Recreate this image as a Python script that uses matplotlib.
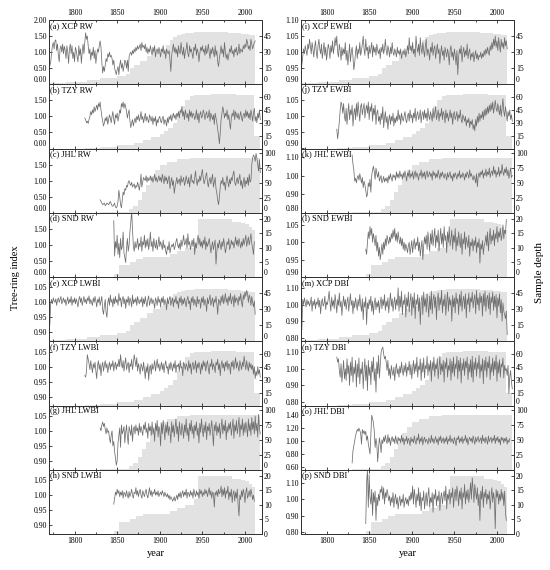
import numpy as np
import matplotlib.pyplot as plt
from matplotlib.ticker import MultipleLocator

plt.rcParams['font.family'] = ['Liberation Serif', 'DejaVu Serif']

# ---- sample depth (step breakpoints) ----
xcp_depth_yr = [1771, 1790, 1800, 1815, 1830, 1850, 1860, 1865, 1870, 1877, 1885, 1892, 1900, 1907,
                1912, 1916, 1920, 1925, 1930, 1940, 1960, 1980, 1995, 2005, 2012]
xcp_depth_n = [1, 2, 2, 4, 6, 8, 10, 15, 18, 22, 26, 30, 33, 37, 41, 44, 46, 47, 48, 49, 49, 48, 47, 46, 46]
tzy_depth_yr = [1812, 1830, 1850, 1870, 1880, 1890, 1900, 1905, 1910, 1915, 1920, 1925, 1930, 1935,
                1940, 1960, 1990, 2010, 2011, 2018]
tzy_depth_n = [1, 2, 4, 7, 10, 13, 17, 20, 24, 30, 40, 50, 57, 61, 63, 64, 63, 62, 15, 15]
jhl_depth_yr = [1830, 1850, 1858, 1864, 1869, 1874, 1879, 1884, 1889, 1894, 1900, 1908, 1920, 1935,
                1960, 2000, 2018]
jhl_depth_n = [1, 1, 2, 6, 12, 22, 34, 47, 62, 72, 79, 85, 89, 91, 92, 92, 92]
snd_depth_yr = [1846, 1852, 1865, 1872, 1880, 1900, 1912, 1920, 1930, 1940, 1945, 1975, 1985, 1995,
                2000, 2005, 2008, 2012]
snd_depth_n = [1, 4, 5, 6, 7, 7, 8, 9, 10, 12, 20, 20, 19, 18.5, 18, 17, 16, 16]

# ---- ring width indices (x100), first year in *_start ----
xcp_start, tzy_start, jhl_start, snd_start = 1771, 1812, 1830, 1846

xcp_rw = [58, 70, 95, 120, 130, 110, 135, 138, 105, 125,
          90, 70, 110, 120, 100, 125, 95, 118, 105, 80,
          120, 100, 65, 110, 125, 95, 120, 80, 100, 70,
          115, 105, 85, 70, 120, 90, 110, 65, 100, 125,
          95, 130, 160, 140, 150, 120, 95, 110, 75, 100,
          90, 115, 80, 105, 65, 90, 110, 100, 120, 135,
          115, 70, 35, 55, 40, 60, 80, 70, 95, 85,
          100, 85, 90, 80, 60, 75, 50, 40, 30, 45,
          55, 30, 60, 75, 50, 65, 40, 55, 75, 70,
          50, 75, 40, 85, 95, 100, 90, 105, 95, 110,
          100, 115, 105, 120, 110, 115, 125, 105, 130, 115,
          120, 110, 125, 100, 115, 95, 110, 100, 120, 105,
          90, 115, 100, 120, 85, 105, 110, 95, 115, 100,
          85, 110, 100, 120, 95, 105, 80, 110, 100, 95,
          105, 75, 40, 90, 110, 125, 100, 115, 95, 110,
          85, 120, 100, 95, 130, 105, 90, 115, 80, 100,
          110, 130, 95, 85, 120, 100, 110, 95, 80, 115,
          105, 125, 90, 110, 100, 70, 95, 115, 105, 120,
          100, 110, 90, 120, 95, 105, 125, 100, 80, 110,
          95, 115, 100, 85, 120, 90, 105, 70, 55, 80,
          100, 120, 95, 110, 85, 130, 100, 80, 95, 75,
          90, 110, 100, 120, 95, 105, 85, 110, 100, 115,
          90, 100, 125, 95, 110, 105, 100, 120, 110, 125,
          115, 140, 130, 110, 120, 105, 140, 125, 110, 120,
          130, 135]
tzy_rw = [95, 90, 80, 85, 78, 90, 100, 115, 105, 120,
          110, 130, 115, 125, 135, 120, 140, 130, 145, 120,
          100, 85, 70, 80, 95, 85, 100, 75, 90, 105,
          95, 80, 100, 115, 90, 75, 105, 95, 110, 85,
          100, 120, 110, 140, 130, 145, 125, 140, 130, 115,
          95, 110, 120, 85, 65, 80, 90, 70, 85, 95,
          80, 100, 90, 105, 85, 95, 115, 90, 100, 80,
          95, 110, 85, 100, 90, 80, 105, 95, 85, 100,
          75, 95, 85, 100, 70, 90, 80, 95, 100, 85,
          80, 95, 100, 75, 90, 85, 70, 95, 80, 100,
          90, 105, 85, 100, 110, 95, 105, 90, 110, 100,
          115, 95, 120, 110, 130, 100, 115, 90, 120, 105,
          95, 110, 85, 120, 100, 115, 95, 110, 105, 90,
          100, 120, 90, 110, 80, 105, 115, 95, 100, 120,
          110, 90, 105, 115, 95, 100, 120, 85, 110, 100,
          90, 105, 75, 110, 95, 80, 60, 40, 15, 50,
          90, 110, 130, 115, 95, 110, 100, 120, 90, 105,
          80, 60, 95, 110, 100, 120, 90, 115, 105, 95,
          110, 90, 100, 115, 95, 85, 105, 110, 95, 120,
          100, 115, 95, 110, 90, 120, 105, 85, 110, 125,
          85, 100, 80, 110, 95, 120, 90]
jhl_rw = [40, 35, 30, 25, 28, 30, 22, 25, 30, 28,
          25, 30, 35, 28, 22, 20, 25, 30, 18, 15,
          20, 35, 70, 50, 25, 15, 40, 65, 55, 75,
          70, 85, 80, 95, 100, 90, 85, 95, 80, 85,
          90, 75, 85, 80, 95, 85, 70, 90, 120, 80,
          95, 110, 105, 100, 115, 95, 110, 100, 105, 115,
          100, 110, 95, 105, 120, 100, 110, 95, 105, 115,
          100, 110, 95, 120, 105, 90, 115, 100, 110, 90,
          105, 115, 75, 95, 110, 85, 100, 60, 80, 95,
          110, 90, 100, 105, 85, 115, 95, 100, 110, 85,
          95, 115, 100, 90, 110, 80, 105, 120, 95, 100,
          90, 110, 130, 100, 85, 105, 95, 115, 100, 120,
          135, 110, 90, 100, 115, 125, 95, 80, 100, 110,
          90, 105, 120, 80, 95, 110, 75, 60, 40, 25,
          50, 80, 100, 90, 110, 85, 95, 70, 100, 115,
          95, 80, 105, 90, 110, 100, 120, 130, 95, 85,
          100, 110, 90, 105, 120, 85, 100, 75, 95, 110,
          80, 100, 90, 110, 85, 120, 95, 100, 150, 170,
          180, 175, 160, 185, 170, 150, 130, 165, 125]
snd_rw = [175, 65, 110, 90, 130, 70, 105, 60, 120, 85,
          95, 140, 75, 60, 45, 90, 120, 80, 100, 140,
          170, 205, 150, 95, 80, 110, 90, 100, 120, 85,
          105, 95, 125, 80, 110, 100, 130, 90, 115, 95,
          120, 85, 105, 140, 95, 110, 80, 120, 100, 90,
          115, 85, 100, 125, 95, 110, 100, 85, 115, 90,
          100, 80, 70, 95, 85, 110, 75, 90, 100, 95,
          105, 85, 95, 110, 120, 100, 90, 105, 85, 115,
          95, 110, 130, 100, 105, 120, 90, 135, 100, 110,
          85, 100, 115, 95, 120, 70, 105, 90, 115, 130,
          100, 120, 95, 110, 90, 115, 100, 125, 85, 110,
          95, 105, 120, 100, 75, 95, 110, 85, 100, 115,
          40, 80, 105, 90, 115, 100, 85, 110, 95, 120,
          100, 75, 90, 110, 100, 120, 85, 95, 115, 100,
          110, 90, 105, 125, 100, 115, 95, 120, 105, 90,
          110, 95, 120, 100, 115, 130, 95, 110, 125, 100,
          115, 135, 105, 90, 70, 110]

# ---- latewood blue intensity (x1000) ----
xcp_lwbi = [925, 1000, 1010, 995, 1015, 1005, 1000, 1012, 990, 1008,
            1015, 1000, 1010, 1020, 995, 1005, 1015, 1000, 1010, 990,
            1005, 1018, 995, 1010, 1000, 1020, 990, 1010, 1000, 1015,
            995, 1012, 1000, 985, 1010, 1020, 1000, 1015, 990, 1005,
            1020, 1000, 1010, 995, 1015, 1005, 1022, 995, 1010, 1000,
            990, 1015, 1000, 1020, 1005, 985, 1010, 1000, 1018, 990,
            1005, 1020, 975, 960, 990, 1010, 965, 950, 1000, 1015,
            990, 1025, 1000, 1010, 985, 1015, 995, 1020, 1000, 1010,
            990, 1030, 1005, 1015, 985, 1010, 1020, 995, 1012, 980,
            1010, 1000, 1020, 990, 1015, 1005, 985, 1025, 995, 1010,
            1000, 1015, 990, 1020, 1005, 995, 1010, 1000, 1018, 985,
            1012, 995, 1020, 1000, 985, 1010, 1022, 990, 1005, 1015,
            995, 1010, 1000, 980, 1015, 1005, 990, 1020, 1000, 1010,
            985, 1015, 1000, 1020, 990, 1010, 1000, 975, 1015, 995,
            1010, 1020, 990, 1005, 1015, 985, 1010, 1000, 1020, 995,
            1005, 980, 1015, 1000, 1020, 990, 1010, 995, 1015, 1000,
            985, 1010, 1020, 995, 1005, 975, 1015, 1000, 1020, 990,
            1010, 1000, 985, 1020, 995, 1010, 1005, 980, 1015, 1000,
            1020, 990, 1010, 1000, 970, 1015, 995, 1010, 1025, 990,
            1005, 1015, 985, 1010, 1000, 1020, 995, 960, 1010, 1005,
            990, 1020, 1000, 1025, 995, 1010, 1030, 1000, 1015, 990,
            1020, 1005, 1030, 995, 1010, 1020, 985, 1025, 1000, 1015,
            1010, 990, 1020, 1005, 1030, 1000, 985, 1025, 1010, 1035,
            1020, 1040, 1030, 1000, 1025, 1015, 990, 1020, 1000, 985,
            1005, 960]
tzy_lwbi = [970, 965, 985, 1040, 1025, 1010, 990, 1020, 1000, 980,
            1010, 995, 1015, 985, 960, 1005, 1020, 990, 1010, 970,
            1000, 1015, 985, 1005, 1020, 995, 1010, 980, 1000, 1015,
            990, 1010, 1000, 1020, 985, 1005, 1015, 990, 1010, 1000,
            1025, 1000, 1040, 1010, 995, 1020, 985, 1010, 1030, 990,
            1005, 1015, 980, 1010, 1000, 1025, 990, 1010, 1040, 1020,
            1000, 1030, 985, 1010, 995, 975, 1010, 1000, 985, 1015,
            990, 960, 1000, 980, 1010, 955, 995, 1005, 975, 1010,
            990, 1000, 1020, 985, 1005, 1025, 995, 1010, 985, 1000,
            1015, 990, 1010, 980, 1005, 1020, 995, 1000, 975, 1010,
            990, 1015, 1000, 985, 1010, 995, 1020, 980, 1005, 1000,
            1010, 985, 1020, 995, 1000, 970, 1015, 1005, 990, 1010,
            1000, 985, 1020, 995, 1010, 975, 1005, 1015, 990, 1000,
            1020, 980, 1010, 995, 1015, 1000, 975, 1010, 990, 1020,
            1000, 1015, 985, 1005, 1020, 995, 975, 1010, 1000, 1025,
            990, 1010, 1000, 980, 1015, 1005, 1025, 990, 1010, 970,
            1005, 1020, 995, 1010, 985, 1015, 1000, 1020, 990, 1010,
            1005, 975, 1015, 1000, 1020, 990, 1010, 1030, 995, 1015,
            1000, 985, 1020, 1005, 990, 1015, 1000, 1035, 1010, 990,
            1020, 1000, 985, 1015, 995, 1010, 990, 1005, 975, 1000,
            960, 985, 970, 1000, 975, 990, 965]
jhl_lwbi = [1010, 1000, 1020, 1030, 1015, 1025, 1005, 990, 1010, 995,
            1000, 975, 960, 985, 1000, 950, 965, 930, 910, 885,
            900, 960, 985, 1010, 945, 1020, 990, 1000, 1015, 960,
            995, 1020, 980, 955, 1015, 1000, 985, 1020, 965, 1005,
            1015, 990, 1020, 1000, 1010, 985, 1025, 995, 1015, 1000,
            985, 1020, 1005, 1030, 995, 1010, 975, 1025, 1000, 1015,
            985, 1030, 990, 1010, 965, 1025, 1000, 1035, 980, 1015,
            1000, 950, 1025, 990, 1035, 1005, 970, 1020, 995, 1030,
            985, 1015, 1000, 960, 1030, 995, 1020, 980, 1010, 1040,
            990, 1015, 965, 1030, 1000, 985, 1025, 1005, 975, 1020,
            995, 1040, 985, 1010, 965, 1025, 1000, 1035, 990, 1015,
            975, 1020, 1000, 1030, 985, 1010, 960, 1025, 995, 1040,
            1005, 980, 1020, 995, 1030, 970, 1015, 1000, 1025, 985,
            1010, 1035, 990, 950, 1020, 1000, 1030, 985, 1015, 995,
            1025, 975, 1010, 1040, 990, 1020, 1000, 1035, 970, 1015,
            995, 1025, 1005, 1030, 985, 1010, 1040, 975, 1020, 1000,
            1035, 990, 1015, 1045, 980, 1020, 1005, 1040, 985, 1025,
            995, 1030, 1010, 980, 1040, 1000, 1025, 985, 1045, 1005,
            1030, 990, 1050, 1000, 1025, 980, 1055, 1010, 990]
snd_lwbi = [970, 990, 1010, 1000, 1020, 1005, 1015, 995, 1010, 1000,
            1015, 990, 1010, 1005, 995, 1015, 1000, 990, 1012, 995,
            1005, 1020, 1000, 990, 1010, 1005, 1025, 1000, 1015, 995,
            1010, 1020, 1000, 990, 1015, 1005, 995, 1010, 1020, 1000,
            990, 1010, 1025, 1000, 1015, 995, 1010, 1005, 1020, 1000,
            1010, 1000, 1015, 995, 1005, 1010, 1000, 1015, 1005, 995,
            1010, 1000, 995, 1005, 990, 1000, 985, 995, 990, 980,
            985, 995, 980, 990, 1000, 985, 1005, 995, 1010, 990,
            1005, 1015, 995, 1010, 1000, 1020, 990, 1010, 1005, 995,
            1015, 1000, 1010, 990, 1020, 1005, 995, 1015, 1000, 1010,
            990, 1020, 1005, 1015, 995, 1010, 1000, 1020, 1005, 1015,
            995, 1010, 1025, 1000, 1015, 990, 1010, 1005, 960, 1010,
            1000, 1015, 995, 1020, 1005, 1010, 1030, 995, 1020, 1000,
            1025, 990, 1015, 1005, 1030, 985, 1010, 995, 1020, 975,
            1005, 1015, 980, 1010, 990, 1020, 965, 930, 1000, 985,
            1015, 995, 1020, 1005, 975, 1010, 1025, 990, 1000, 1015,
            995, 1020, 1005, 985, 1000, 980]

# ---- earlywood blue intensity (x1000) ----
xcp_ewbi = [960, 985, 1010, 995, 1020, 1005, 990, 1025, 1010, 1040,
            1020, 995, 1030, 1010, 985, 1015, 1035, 1000, 980, 1020,
            1040, 1010, 995, 1025, 980, 1005, 1030, 990, 1015, 975,
            1000, 1025, 1010, 980, 1020, 1000, 1035, 995, 1015, 1045,
            1020, 1050, 1000, 985, 1025, 1005, 975, 1015, 990, 1010,
            995, 1030, 975, 1005, 960, 990, 1025, 970, 1000, 1015,
            985, 945, 965, 1000, 1020, 980, 1010, 995, 1030, 990,
            1005, 1025, 1050, 1010, 990, 1040, 1005, 1015, 980, 1020,
            995, 1010, 1030, 985, 1020, 1000, 1015, 990, 1025, 1005,
            995, 1010, 980, 1015, 1000, 1025, 995, 1010, 1040, 1005,
            990, 1020, 1005, 985, 1015, 995, 1030, 1000, 990, 1010,
            1000, 985, 1015, 995, 1005, 990, 1010, 980, 995, 1005,
            990, 1010, 985, 1000, 1020, 995, 1045, 1005, 1020, 1000,
            1030, 995, 1010, 985, 1050, 1015, 1000, 1025, 990, 1045,
            1010, 995, 1030, 1005, 985, 1020, 1040, 990, 1010, 1000,
            975, 1015, 1000, 1030, 990, 1010, 1020, 980, 1005, 1025,
            995, 1010, 965, 1000, 1020, 990, 1005, 975, 1015, 1000,
            985, 1010, 995, 960, 1005, 1020, 985, 1000, 975, 1010,
            990, 960, 1005, 930, 985, 1010, 995, 1020, 970, 1000,
            1015, 985, 1005, 990, 1025, 980, 1000, 1010, 975, 995,
            985, 1000, 970, 990, 1005, 980, 995, 975, 990, 985,
            1000, 980, 995, 985, 1005, 990, 1010, 995, 1015, 1000,
            990, 1020, 1005, 1030, 1010, 1040, 1020, 1050, 1015, 1035,
            1005, 1045, 1020, 1000, 1040, 1015, 1030, 1010, 1045, 1020,
            1035, 1010]
tzy_ewbi = [960, 930, 955, 985, 1020, 1045, 1035, 1010, 1040, 1000,
            985, 1025, 975, 1010, 1040, 990, 1020, 1005, 1035, 970,
            1010, 1025, 990, 1040, 1000, 1045, 1015, 985, 1030, 1040,
            1005, 1025, 1040, 995, 1020, 1035, 1010, 1045, 990, 1030,
            1015, 1040, 985, 1025, 1005, 1035, 975, 1010, 1020, 985,
            1000, 975, 1010, 990, 1030, 965, 995, 1015, 980, 1000,
            960, 990, 1005, 975, 1000, 985, 1010, 970, 995, 980,
            1000, 985, 1020, 990, 1005, 975, 1010, 995, 985, 1000,
            1015, 990, 980, 1000, 1010, 985, 1020, 995, 1005, 980,
            1010, 995, 1025, 985, 1005, 1015, 990, 1000, 1020, 980,
            1005, 1015, 990, 1020, 995, 1010, 985, 1025, 1000, 990,
            1015, 1000, 985, 1025, 995, 1010, 1030, 990, 1005, 1020,
            985, 1010, 1000, 1025, 990, 1015, 1005, 980, 1020, 995,
            1010, 985, 1000, 1020, 995, 1010, 975, 1005, 1015, 990,
            1000, 1015, 985, 1005, 995, 1020, 990, 980, 1005, 995,
            985, 1000, 970, 990, 980, 995, 965, 985, 975, 990,
            960, 975, 955, 990, 970, 1000, 980, 1010, 985, 1005,
            995, 1015, 990, 1020, 1000, 1025, 1005, 1030, 1010, 1035,
            1015, 1040, 1020, 1045, 1010, 1030, 1050, 1025, 1015, 1040,
            1020, 1005, 1035, 1000, 1025, 1055, 1015, 1000, 1030, 1010,
            985, 1015, 1000, 1020, 990, 1005, 985]
jhl_ewbi = [1110, 1060, 1030, 970, 985, 960, 990, 1000, 975, 1010,
            985, 960, 990, 935, 970, 950, 920, 885, 900, 960,
            940, 980, 910, 1000, 1030, 1050, 1020, 980, 1040, 1010,
            990, 1020, 970, 985, 1000, 960, 975, 995, 965, 985,
            970, 990, 960, 1000, 980, 1010, 985, 970, 1005, 990,
            1000, 975, 1020, 990, 1010, 985, 1025, 995, 1005, 980,
            1015, 990, 1025, 1000, 970, 1015, 995, 1030, 985, 1010,
            995, 1020, 980, 1005, 1025, 990, 1015, 1000, 975, 1010,
            1000, 1030, 985, 1015, 995, 1020, 980, 1010, 1025, 990,
            1005, 1020, 995, 1010, 975, 1025, 1000, 1015, 985, 1010,
            990, 1030, 1005, 980, 1015, 995, 1020, 1000, 985, 1010,
            1000, 975, 1015, 990, 1005, 1020, 985, 1000, 970, 1010,
            990, 1015, 1000, 980, 1010, 995, 1025, 985, 1005, 990,
            1015, 1000, 975, 1010, 990, 1020, 1005, 985, 1030, 995,
            1010, 990, 975, 1000, 985, 960, 1010, 940, 995, 1015,
            990, 1020, 1005, 1030, 985, 1015, 1000, 1035, 995, 1020,
            1005, 1040, 990, 1015, 1025, 1000, 1050, 1010, 1030, 990,
            1020, 1005, 1045, 995, 1025, 1010, 1060, 1020, 1000, 1035,
            1015, 1045, 1000, 1030, 985, 1010, 1040, 990, 1000]
snd_ewbi = [980, 965, 1000, 1030, 1010, 1045, 1020, 1040, 1000, 1025,
            1010, 990, 1020, 975, 1000, 960, 985, 950, 970, 995,
            965, 1000, 980, 1010, 990, 1020, 1005, 995, 1015, 1000,
            1025, 1010, 1035, 1015, 1040, 1005, 1025, 1000, 1030, 1010,
            995, 1015, 990, 1010, 980, 1000, 975, 995, 985, 970,
            990, 1000, 965, 985, 1005, 970, 995, 1010, 980, 1000,
            990, 1015, 975, 1000, 960, 985, 1005, 950, 990, 1015,
            995, 1020, 980, 1030, 1000, 975, 1025, 995, 1035, 990,
            1015, 1040, 985, 1020, 1000, 1035, 975, 1010, 1040, 995,
            1025, 985, 1045, 1005, 1020, 970, 1030, 1000, 1045, 990,
            1010, 1035, 980, 1020, 1000, 1040, 975, 1015, 990, 1030,
            1005, 985, 1025, 965, 1010, 995, 1030, 980, 1015, 1000,
            985, 1020, 960, 1000, 990, 1010, 975, 1005, 990, 1015,
            970, 1000, 985, 1010, 940, 995, 980, 1005, 965, 990,
            1000, 1020, 990, 1030, 975, 1010, 1040, 995, 1020, 1005,
            1035, 990, 1025, 1010, 1045, 1000, 1030, 1015, 1040, 1005,
            1020, 1050, 1010, 1035, 1025, 1065]

# ---- delta blue intensity (x1000) ----
xcp_dbi = [850, 1030, 1000, 1040, 1010, 985, 1030, 1000, 1020, 990,
           1010, 1045, 960, 1020, 995, 1030, 975, 1015, 1000, 1040,
           985, 1025, 945, 1010, 1035, 990, 1005, 1050, 970, 1015,
           1000, 1035, 1080, 1010, 960, 1045, 990, 1025, 975, 1060,
           1010, 950, 1030, 995, 1070, 985, 1020, 935, 1005, 1050,
           990, 1030, 970, 1015, 1045, 960, 1010, 1065, 995, 1025,
           945, 1020, 980, 1040, 1005, 965, 1030, 990, 1060, 1000,
           960, 1035, 910, 1015, 985, 1045, 880, 1010, 975, 1030,
           995, 1050, 960, 1020, 940, 1005, 1040, 970, 1015, 985,
           1025, 950, 1010, 1045, 975, 1030, 995, 1060, 965, 1020,
           985, 1040, 950, 1015, 1070, 990, 1035, 960, 1010, 1045,
           970, 1030, 995, 1100, 960, 1050, 985, 1080, 940, 1025,
           1000, 1060, 925, 1040, 990, 1075, 955, 1020, 1065, 935,
           1045, 980, 1070, 915, 1030, 1000, 1060, 960, 1040, 880,
           1020, 1055, 940, 1075, 990, 1035, 955, 1065, 1000, 925,
           1050, 970, 1080, 945, 1030, 1060, 980, 1045, 910, 1025,
           1070, 965, 1040, 1000, 1085, 950, 1030, 990, 1060, 935,
           1020, 1075, 960, 1045, 995, 1030, 900, 1055, 985, 1040,
           950, 1070, 1005, 1035, 940, 1060, 990, 1080, 960, 1025,
           1050, 975, 1065, 920, 1035, 1000, 1070, 955, 1040, 1015,
           1075, 980, 1030, 1060, 945, 1085, 1000, 1040, 965, 1070,
           1010, 1050, 930, 1065, 990, 1080, 960, 1035, 1055, 975,
           1070, 940, 1045, 1010, 1075, 965, 1050, 985, 1060, 920,
           1040, 990, 1065, 950, 1030, 900, 1010, 960, 940, 915,
           960, 820]
tzy_dbi = [1070, 1040, 1060, 990, 950, 1030, 920, 980, 1050, 940,
           1000, 930, 1060, 970, 1020, 900, 1040, 960, 1070, 920,
           1010, 970, 1050, 890, 1030, 950, 1065, 910, 1000, 970,
           1040, 880, 990, 1060, 930, 1020, 870, 1050, 960, 1010,
           905, 1045, 980, 1070, 930, 1000, 860, 1040, 970, 1080,
           945, 1020, 1100, 1120, 1130, 1090, 1060, 1075, 1040, 990,
           1050, 960, 1000, 940, 1020, 985, 960, 1010, 930, 995,
           1030, 970, 1000, 950, 1015, 975, 1040, 990, 960, 1020,
           980, 1035, 955, 1010, 990, 1045, 965, 1025, 940, 1000,
           1050, 970, 1030, 985, 1070, 950, 1015, 995, 1060, 930,
           1035, 980, 1065, 945, 1020, 1000, 1075, 960, 1030, 985,
           1050, 925, 1040, 990, 1070, 955, 1025, 1000, 1060, 940,
           1010, 1075, 965, 1030, 985, 1050, 920, 1040, 1000, 1065,
           950, 1020, 990, 1060, 930, 1045, 975, 1070, 955, 1030,
           1000, 1075, 940, 1050, 985, 1065, 915, 1035, 990, 1060,
           960, 1045, 1005, 1070, 935, 1030, 980, 1055, 950, 1075,
           920, 1040, 995, 1065, 955, 1035, 1000, 1080, 945, 1025,
           985, 1060, 910, 1050, 990, 1070, 950, 1040, 1005, 1075,
           935, 1030, 980, 1065, 960, 1045, 995, 1080, 925, 1040,
           975, 1055, 950, 1030, 1010, 1065, 945, 1020, 990, 1000,
           960, 1020, 850, 950, 990, 920, 880]
jhl_dbi = [660, 850, 930, 1010, 1080, 1130, 1180, 1150, 1200, 1160,
           1130, 950, 1180, 1120, 1160, 1100, 1150, 1010, 1080, 960,
           880, 800, 1120, 1400, 1350, 1280, 1150, 900, 1040, 950,
           680, 880, 1050, 960, 820, 1020, 960, 1060, 990, 1090,
           1010, 960, 1100, 980, 1050, 930, 1020, 1070, 990, 1040,
           960, 1080, 1010, 950, 1060, 1000, 1040, 970, 1090, 990,
           1050, 940, 1030, 1000, 1070, 960, 1040, 1010, 930, 1060,
           990, 1030, 970, 1080, 1000, 950, 1050, 1010, 1110, 960,
           1040, 990, 1070, 940, 1020, 1060, 980, 1030, 1000, 950,
           1050, 1010, 970, 1090, 990, 1040, 960, 1020, 1070, 980,
           1030, 940, 1060, 1000, 1080, 970, 1020, 1050, 960, 1040,
           990, 1070, 950, 1030, 1000, 1090, 980, 1040, 1010, 960,
           1060, 1000, 930, 1050, 1020, 1080, 970, 1040, 990, 1070,
           960, 1030, 1010, 1090, 980, 1050, 940, 1020, 1060, 1000,
           1040, 970, 1080, 1010, 950, 1060, 990, 1030, 1070, 980,
           1020, 1050, 960, 1090, 1000, 1040, 970, 1060, 1010, 950,
           1080, 990, 1030, 1060, 970, 1040, 1010, 1090, 960, 1050,
           1000, 1070, 980, 1030, 940, 1060, 1010, 1050, 970, 1040,
           1000, 1060, 950, 1020, 980, 1040]
snd_dbi = [850, 1100, 1180, 950, 1150, 1010, 970, 1060, 900, 1040,
           980, 1050, 870, 1010, 960, 1030, 990, 1060, 1040, 1080,
           1000, 1070, 970, 1040, 1010, 1060, 1030, 990, 1020, 960,
           1010, 980, 1040, 950, 1000, 1030, 970, 1010, 940, 990,
           1020, 960, 1000, 980, 1030, 950, 990, 1010, 970, 1000,
           960, 1020, 990, 1040, 1000, 1080, 970, 1060, 1010, 950,
           1030, 990, 1070, 960, 1040, 930, 1010, 990, 1050, 940,
           1000, 1040, 960, 1020, 1070, 950, 1010, 980, 1040, 920,
           1030, 1000, 1060, 960, 1020, 990, 1050, 930, 1010, 1040,
           970, 1020, 1050, 990, 1080, 940, 1030, 1000, 1060, 970,
           1040, 1010, 1070, 950, 1020, 1060, 990, 1080, 1030, 960,
           1050, 1000, 1070, 940, 1040, 1010, 1090, 970, 1050, 1000,
           1060, 980, 1030, 1100, 1000, 1130, 1060, 980, 1090, 1040,
           1000, 1070, 960, 1030, 870, 1050, 1000, 1080, 950, 1040,
           1010, 1060, 970, 1030, 1000, 1050, 940, 1010, 1070, 980,
           1040, 1000, 820, 1060, 1010, 1050, 970, 1030, 990, 1060,
           1000, 1040, 960, 1050, 920, 870]

# site settings: start year, depth steps, right-axis limit / ticks
sites = {
    'XCP': (xcp_start, xcp_depth_yr, xcp_depth_n, 60, [0, 15, 30, 45]),
    'TZY': (tzy_start, tzy_depth_yr, tzy_depth_n, 75, [0, 15, 30, 45, 60]),
    'JHL': (jhl_start, jhl_depth_yr, jhl_depth_n, 107, [0, 25, 50, 75, 100]),
    'SND': (snd_start, snd_depth_yr, snd_depth_n, 22, [0, 5, 10, 15, 20]),
}

# (label, site, values, scale, ylim, yticks)
left_col = [
    ('(a) XCP RW', 'XCP', xcp_rw, 100, (0, 2.0), [0, 0.5, 1.0, 1.5, 2.0]),
    ('(b) TZY RW', 'TZY', tzy_rw, 100, (0, 2.0), [0, 0.5, 1.0, 1.5]),
    ('(c) JHL RW', 'JHL', jhl_rw, 100, (0, 2.0), [0, 0.5, 1.0, 1.5]),
    ('(d) SND RW', 'SND', snd_rw, 100, (0, 2.0), [0, 0.5, 1.0, 1.5]),
    ('(e) XCP LWBI', 'XCP', xcp_lwbi, 1000, (0.87, 1.085), [0.90, 0.95, 1.00, 1.05]),
    ('(f) TZY LWBI', 'TZY', tzy_lwbi, 1000, (0.87, 1.085), [0.90, 0.95, 1.00, 1.05]),
    ('(g) JHL LWBI', 'JHL', jhl_lwbi, 1000, (0.87, 1.085), [0.90, 0.95, 1.00, 1.05]),
    ('(h) SND LWBI', 'SND', snd_lwbi, 1000, (0.87, 1.085), [0.90, 0.95, 1.00, 1.05]),
]
right_col = [
    ('(i) XCP EWBI', 'XCP', xcp_ewbi, 1000, (0.90, 1.10), [0.90, 0.95, 1.00, 1.05, 1.10]),
    ('(j) TZY EWBI', 'TZY', tzy_ewbi, 1000, (0.90, 1.10), [0.90, 0.95, 1.00, 1.05]),
    ('(k) JHL EWBI', 'JHL', jhl_ewbi, 1000, (0.80, 1.145), [0.80, 0.90, 1.00, 1.10]),
    ('(l) SND EWBI', 'SND', snd_ewbi, 1000, (0.90, 1.085), [0.90, 0.95, 1.00, 1.05]),
    ('(m) XCP DBI', 'XCP', xcp_dbi, 1000, (0.78, 1.165), [0.80, 0.90, 1.00, 1.10]),
    ('(n) TZY DBI', 'TZY', tzy_dbi, 1000, (0.78, 1.165), [0.80, 0.90, 1.00, 1.10]),
    ('(o) JHL DBI', 'JHL', jhl_dbi, 1000, (0.555, 1.55), [0.60, 0.80, 1.00, 1.20, 1.40]),
    ('(p) SND DBI', 'SND', snd_dbi, 1000, (0.787, 1.18), [0.80, 0.90, 1.00, 1.10]),
]

W, H = 550, 570
fig = plt.figure(figsize=(W / 100, H / 100), dpi=100)

top_px, bot_px = 20, 534
ph = (bot_px - top_px) / 8
col_x = [49, 301]
col_w = 213

line_c = '#6e6e6e'
fill_c = '#e2e2e2'
fs = 5.6

for c, panels in enumerate([left_col, right_col]):
    for r, (lab, site, vals, scale, ylim, yt) in enumerate(panels):
        start, dyr, dn, dmax, dticks = sites[site]
        y0 = 1 - (top_px + (r + 1) * ph) / H
        ax = fig.add_axes([col_x[c] / W, y0, col_w / W, ph / H])
        ax2 = ax.twinx()

        ax2.fill_between(dyr, dn, step='post', color=fill_c, lw=0)
        ax2.set_ylim(0, dmax)
        ax2.set_yticks(dticks)

        yrs = np.arange(start, start + len(vals))
        ax.plot(yrs, np.array(vals) / scale, color=line_c, lw=0.55)
        ax.set_ylim(*ylim)
        ax.set_yticks(yt)
        ax.set_yticklabels(['%.2f' % v for v in yt])
        ax.set_xlim(1770, 2020)
        ax.xaxis.set_major_locator(MultipleLocator(50))
        ax.xaxis.set_minor_locator(MultipleLocator(25))

        ax.set_zorder(ax2.get_zorder() + 1)
        ax.patch.set_visible(False)

        ax.tick_params(axis='x', which='both', direction='in', top=True, bottom=True,
                       labelbottom=(r == 7), labeltop=(r == 0), labelsize=fs, pad=2)
        ax.tick_params(axis='x', which='major', length=2.5, width=0.5)
        ax.tick_params(axis='x', which='minor', length=1.5, width=0.5)
        ax.tick_params(axis='y', direction='in', length=2, width=0.5, labelsize=fs, pad=1.5)
        ax2.tick_params(axis='y', direction='in', length=2, width=0.5, labelsize=fs, pad=1.5)

        # bottom tick labels sit just above the panel edge so they don't collide
        # with the top labels of the panel below
        if r < 7:
            ax.get_yticklabels()[0].set_va('bottom') if yt[0] == ylim[0] else None
            ax2.get_yticklabels()[0].set_va('bottom')

        for a in (ax, ax2):
            for s in a.spines.values():
                s.set_linewidth(0.7)
                s.set_color('#333333')

        ax.text(0.005, 0.97, lab, transform=ax.transAxes, ha='left', va='top', fontsize=6)

    fig.text((col_x[c] + col_w / 2) / W, 1 - 554 / H, 'year', ha='center', va='center', fontsize=7.5)

fig.text(15 / W, 1 - 278 / H, 'Tree-ring index', rotation=90, ha='center', va='center', fontsize=7.5)
fig.text(540 / W, 1 - 273 / H, 'Sample depth', rotation=90, ha='center', va='center', fontsize=8)

fig.savefig('out.png', dpi=100)
